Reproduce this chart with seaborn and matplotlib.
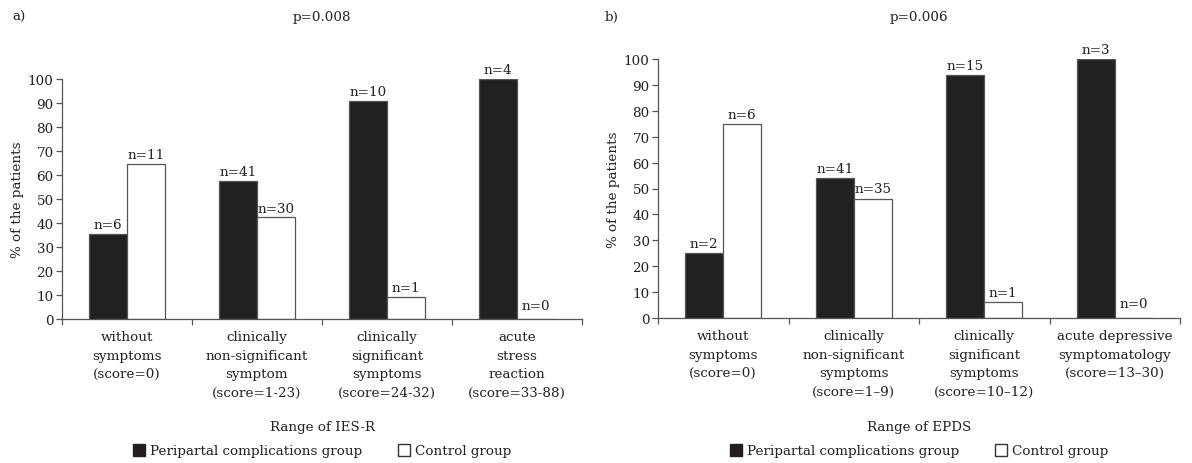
import matplotlib
matplotlib.use("Agg")
import matplotlib.pyplot as plt
import seaborn as sns
import pandas as pd
from matplotlib.lines import Line2D

# ---- data ----
cats_a = ["without\nsymptoms\n(score=0)",
          "clinically\nnon-significant\nsymptom\n(score=1-23)",
          "clinically\nsignificant\nsymptoms\n(score=24-32)",
          "acute\nstress\nreaction\n(score=33-88)"]
peri_a = [35.3, 57.7, 90.9, 100.0]
ctrl_a = [64.7, 42.3, 9.1, 0.0]
n_peri_a = [6, 41, 10, 4]
n_ctrl_a = [11, 30, 1, 0]

cats_b = ["without\nsymptoms\n(score=0)",
          "clinically\nnon-significant\nsymptoms\n(score=1\u20139)",
          "clinically\nsignificant\nsymptoms\n(score=10\u201312)",
          "acute depressive\nsymptomatology\n(score=13\u201330)"]
peri_b = [25.0, 53.9, 93.8, 100.0]
ctrl_b = [75.0, 46.1, 6.2, 0.0]
n_peri_b = [2, 41, 15, 3]
n_ctrl_b = [6, 35, 1, 0]

groups = ["Peripartal complications group", "Control group"]
yticks = list(range(0, 101, 10))

FS = 9.7
sns.set_theme(style="white")
plt.rcParams["font.family"] = ["DejaVu Serif"]
plt.rcParams["font.size"] = FS

fig = plt.figure(figsize=(11.92, 4.64), dpi=100)
ax_a = fig.add_axes([62/1192, 1-320/464, 520/1192, 240/464])
ax_b = fig.add_axes([658/1192, 1-319/464, 522/1192, 259/464])

palette = {groups[0]: "#231f20", groups[1]: "white"}
edge = "#555555"
TXT = "#222222"


def panel(ax, cats, peri, ctrl, n_peri, n_ctrl, xlabel, label_y):
    df = pd.DataFrame({
        "cat": cats * 2,
        "group": [groups[0]] * len(cats) + [groups[1]] * len(cats),
        "val": peri + ctrl,
        "n": n_peri + n_ctrl,
    })
    sns.barplot(data=df, x="cat", y="val", hue="group", order=cats,
                hue_order=groups, palette=palette, width=0.585,
                edgecolor=edge, linewidth=0.9, ax=ax, legend=False)
    ax.set_ylim(0, 100)
    ax.set_xlim(-0.5, len(cats) - 0.5)
    ax.set_yticks(yticks)
    ax.set_ylabel("% of the patients", fontsize=FS, color=TXT, labelpad=3)
    ax.set_xlabel(xlabel, fontsize=FS, color=TXT, va="center")
    ax.xaxis.set_label_coords(0.5, label_y)
    ax.tick_params(axis="y", left=True, length=4, width=0.9, color=edge,
                   labelsize=FS, labelcolor=TXT, pad=2)
    ax.tick_params(axis="x", which="major", bottom=False, length=0,
                   labelsize=FS, labelcolor=TXT, pad=8)
    ax.set_xticks([i - 0.5 for i in range(len(cats) + 1)], minor=True)
    ax.tick_params(axis="x", which="minor", bottom=True, length=4,
                   width=0.9, color=edge)
    ax.set_xticks(range(len(cats)))
    ax.set_xticklabels(cats, linespacing=1.55)
    for s in ["top", "right"]:
        ax.spines[s].set_visible(False)
    for s in ["left", "bottom"]:
        ax.spines[s].set_color(edge)
        ax.spines[s].set_linewidth(0.9)
    # n labels
    for cont, ns in zip(ax.containers, [n_peri, n_ctrl]):
        for bar, n in zip(cont, ns):
            x = bar.get_x() + bar.get_width() / 2
            h = bar.get_height()
            yy = h + 1.2 if h > 0 else 3.0
            ax.text(x, yy, f"n={n}", ha="center", va="bottom",
                    fontsize=FS, color=TXT)


panel(ax_a, cats_a, peri_a, ctrl_a, n_peri_a, n_ctrl_a, "Range of IES-R",
      (320 - 428) / 240)
panel(ax_b, cats_b, peri_b, ctrl_b, n_peri_b, n_ctrl_b, "Range of EPDS",
      (319 - 428) / 259)

fig.text(12/1192, 1-17/464, "a)", fontsize=FS, va="center", color=TXT)
fig.text(322/1192, 1-17/464, "p=0.008", fontsize=FS, va="center", ha="center", color=TXT)
fig.text(605/1192, 1-17/464, "b)", fontsize=FS, va="center", color=TXT)
fig.text(919/1192, 1-17/464, "p=0.006", fontsize=FS, va="center", ha="center", color=TXT)

handles = [Line2D([], [], marker="s", linestyle="none", markersize=8.5,
                  markerfacecolor="#231f20", markeredgecolor="#231f20"),
           Line2D([], [], marker="s", linestyle="none", markersize=8,
                  markerfacecolor="white", markeredgecolor="#333")]
for cx in (322/1192, 919/1192):
    fig.legend(handles, groups, loc="center", bbox_to_anchor=(cx, 1-452/464),
               ncol=2, frameon=False, fontsize=FS, handletextpad=0.3,
               columnspacing=2.6, handlelength=1.0, labelcolor=TXT)

fig.savefig("out.png", dpi=100)
